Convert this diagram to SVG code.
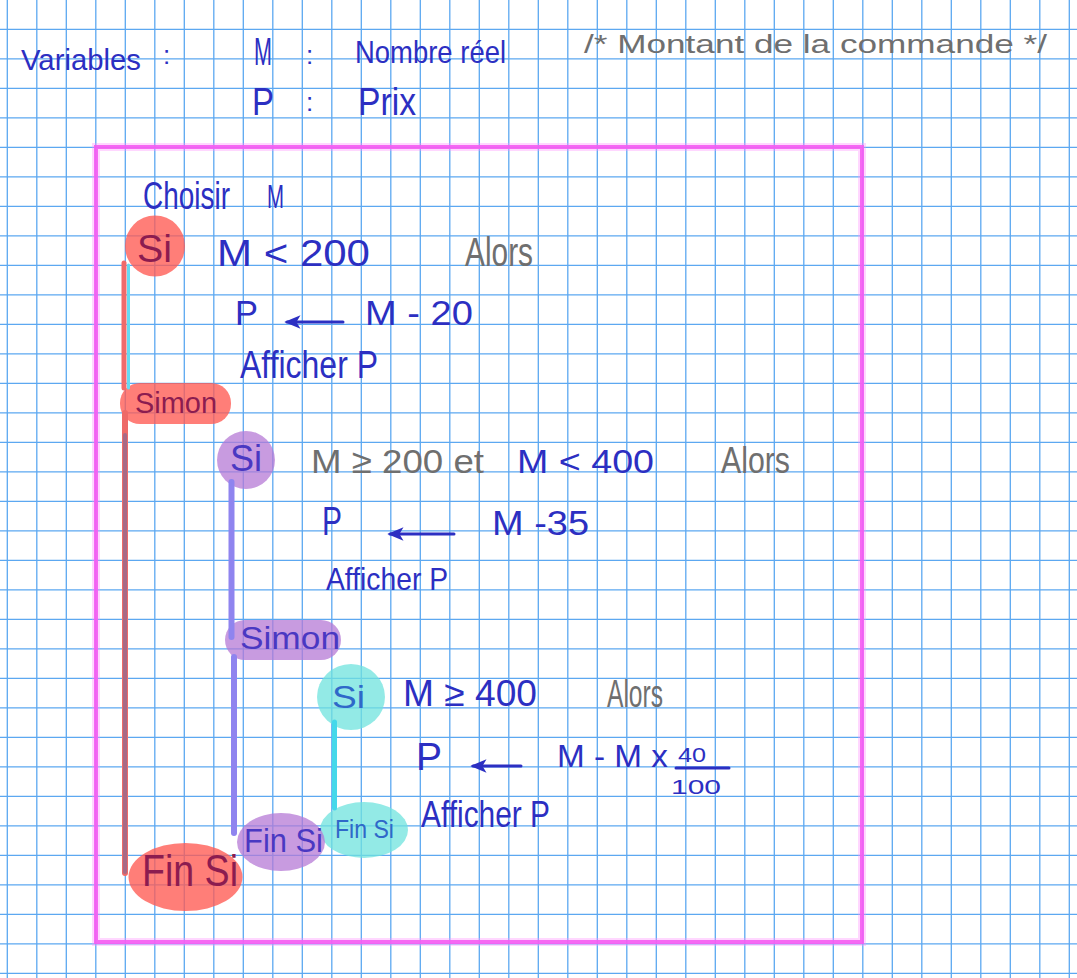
<svg xmlns="http://www.w3.org/2000/svg" width="1077" height="978" viewBox="0 0 1077 978">
<style>
text{font-family:"Liberation Sans","DejaVu Sans",Arial,sans-serif;}
.ink{fill:#2c2fc2;}
.grey{fill:#6f6f6f;}
.lred{fill:#8c1c50;}
.lpur{fill:#4a38c2;}
.lcya{fill:#2f68c9;}
.grid{fill:none;stroke:#4a9ef0;stroke-width:1.3;opacity:0.9;}
.red{fill:#ff5a52;fill-opacity:0.78;}
.pur{fill:#b57ad6;fill-opacity:0.75;}
.cya{fill:#6fe3de;fill-opacity:0.75;}
.arrow{stroke:#2c2fc2;stroke-width:3;fill:none;stroke-linecap:round;}
.bar{fill:none;stroke-linecap:round;}
</style>
<defs>
<marker id="ah" viewBox="0 0 12 10" refX="10" refY="5" markerWidth="5.5" markerHeight="4.5" orient="auto" markerUnits="strokeWidth">
<path d="M12,5 L0,0 L3,5 L0,10 Z" fill="#2c2fc2"/>
</marker>
</defs>
<rect width="1077" height="978" fill="#ffffff"/>
<path class="grid" d="M7.3 0V978M36.8 0V978M66.3 0V978M95.8 0V978M125.3 0V978M154.8 0V978M184.3 0V978M213.8 0V978M243.3 0V978M272.8 0V978M302.3 0V978M331.8 0V978M361.3 0V978M390.8 0V978M420.3 0V978M449.8 0V978M479.3 0V978M508.8 0V978M538.3 0V978M567.8 0V978M597.3 0V978M626.8 0V978M656.3 0V978M685.8 0V978M715.3 0V978M744.8 0V978M774.3 0V978M803.8 0V978M833.3 0V978M862.8 0V978M892.3 0V978M921.8 0V978M951.3 0V978M980.8 0V978M1010.3 0V978M1039.8 0V978M1069.3 0V978M0 29.3H1077M0 58.8H1077M0 88.3H1077M0 117.8H1077M0 147.3H1077M0 176.8H1077M0 206.3H1077M0 235.8H1077M0 265.3H1077M0 294.8H1077M0 324.3H1077M0 353.8H1077M0 383.3H1077M0 412.8H1077M0 442.3H1077M0 471.8H1077M0 501.3H1077M0 530.8H1077M0 560.3H1077M0 589.8H1077M0 619.3H1077M0 648.8H1077M0 678.3H1077M0 707.8H1077M0 737.3H1077M0 766.8H1077M0 796.3H1077M0 825.8H1077M0 855.3H1077M0 884.8H1077M0 914.3H1077M0 943.8H1077M0 973.3H1077"/>

<g id="header">
<text class="ink" x="21" y="70" font-size="30" textLength="120" lengthAdjust="spacingAndGlyphs">Variables</text>
<text class="ink" x="163" y="64" font-size="26">:</text>
<text class="ink" x="254" y="65" font-size="39" textLength="18" lengthAdjust="spacingAndGlyphs">M</text>
<text class="ink" x="306" y="64" font-size="26">:</text>
<text class="ink" x="355" y="63" font-size="32" textLength="151" lengthAdjust="spacingAndGlyphs">Nombre réel</text>
<text class="ink" x="252" y="115" font-size="38" textLength="22" lengthAdjust="spacingAndGlyphs">P</text>
<text class="ink" x="306" y="111" font-size="26">:</text>
<text class="ink" x="358" y="115" font-size="38" textLength="58" lengthAdjust="spacingAndGlyphs">Prix</text>
<text class="grey" x="584" y="53" font-size="26" textLength="463" lengthAdjust="spacingAndGlyphs">/* Montant de la commande */</text>
</g>

<g id="frame">
<rect x="96" y="147" width="766" height="795" fill="none" stroke="#ff8cff" stroke-width="8" opacity="0.35"/>
<rect x="96" y="147" width="766" height="795" fill="none" stroke="#f55cf2" stroke-width="4" opacity="0.9"/>
</g>

<g id="choisir">
<text class="ink" x="143" y="209" font-size="39" textLength="87" lengthAdjust="spacingAndGlyphs">Choisir</text>
<text class="ink" x="267" y="208" font-size="34" textLength="17" lengthAdjust="spacingAndGlyphs">M</text>
</g>

<g id="si1">
<ellipse class="red" cx="155" cy="246" rx="30" ry="30.5"/>
<text class="lred" x="137" y="262" font-size="38" textLength="35" lengthAdjust="spacingAndGlyphs">Si</text>
</g>
<g id="cond1">
<text class="ink" x="217" y="266" font-size="36" textLength="153" lengthAdjust="spacingAndGlyphs">M &lt; 200</text>
<text class="grey" x="465" y="266" font-size="40" textLength="68" lengthAdjust="spacingAndGlyphs">Alors</text>
</g>
<g id="assign1">
<text class="ink" x="235" y="325" font-size="35" textLength="23" lengthAdjust="spacingAndGlyphs">P</text>
<line class="arrow" x1="343" y1="322" x2="287" y2="322" marker-end="url(#ah)"/>
<text class="ink" x="365" y="325" font-size="35" textLength="108" lengthAdjust="spacingAndGlyphs">M - 20</text>
</g>
<g id="afficher1">
<text class="ink" x="240" y="378" font-size="38" textLength="138" lengthAdjust="spacingAndGlyphs">Afficher P</text>
</g>
<g id="sinon1">
<rect class="red" x="120" y="383" width="111" height="41" rx="20"/>
<text class="lred" x="135" y="413" font-size="30" textLength="82" lengthAdjust="spacingAndGlyphs">Simon</text>
</g>

<g id="si2">
<circle class="pur" cx="246" cy="460" r="29"/>
<text class="lpur" x="230" y="471" font-size="36" textLength="32" lengthAdjust="spacingAndGlyphs">Si</text>
</g>
<g id="cond2">
<text class="grey" x="311" y="473" font-size="34" textLength="173" lengthAdjust="spacingAndGlyphs">M ≥ 200 et</text>
<text class="ink" x="517" y="473" font-size="34" textLength="137" lengthAdjust="spacingAndGlyphs">M &lt; 400</text>
<text class="grey" x="721" y="473" font-size="37" textLength="69" lengthAdjust="spacingAndGlyphs">Alors</text>
</g>
<g id="assign2">
<text class="ink" x="322" y="535" font-size="40" textLength="20" lengthAdjust="spacingAndGlyphs">P</text>
<line class="arrow" x1="454" y1="534" x2="390" y2="534" marker-end="url(#ah)"/>
<text class="ink" x="492" y="535" font-size="35" textLength="97" lengthAdjust="spacingAndGlyphs">M -35</text>
</g>
<g id="afficher2">
<text class="ink" x="326" y="590" font-size="32" textLength="122" lengthAdjust="spacingAndGlyphs">Afficher P</text>
</g>
<g id="sinon2">
<rect class="pur" x="225" y="620" width="116" height="40" rx="20"/>
<text class="lpur" x="240" y="649" font-size="32" textLength="100" lengthAdjust="spacingAndGlyphs">Simon</text>
</g>

<g id="si3">
<ellipse class="cya" cx="351" cy="697" rx="34" ry="33"/>
<text class="lcya" x="332" y="708" font-size="32" textLength="33" lengthAdjust="spacingAndGlyphs">Si</text>
</g>
<g id="cond3">
<text class="ink" x="403" y="706" font-size="36" textLength="134" lengthAdjust="spacingAndGlyphs">M ≥ 400</text>
<text class="grey" x="607" y="707" font-size="38" textLength="56" lengthAdjust="spacingAndGlyphs">Alors</text>
</g>
<g id="assign3">
<text class="ink" x="416" y="770" font-size="38" textLength="26" lengthAdjust="spacingAndGlyphs">P</text>
<line class="arrow" x1="521" y1="766" x2="473" y2="766" marker-end="url(#ah)"/>
<text class="ink" x="557" y="767" font-size="31" textLength="111" lengthAdjust="spacingAndGlyphs">M - M x</text>
<text class="ink" x="678" y="762" font-size="20" textLength="28" lengthAdjust="spacingAndGlyphs">40</text>
<line x1="676" y1="768" x2="729" y2="768" stroke="#2c2fc2" stroke-width="3" stroke-linecap="round"/>
<text class="ink" x="671" y="794" font-size="21" textLength="50" lengthAdjust="spacingAndGlyphs">100</text>
</g>
<g id="afficher3">
<text class="ink" x="421" y="827" font-size="36" textLength="129" lengthAdjust="spacingAndGlyphs">Afficher P</text>
</g>
<g id="finsi3">
<ellipse class="cya" cx="364" cy="830" rx="44" ry="28"/>
<text class="lcya" x="335" y="838" font-size="26" textLength="59" lengthAdjust="spacingAndGlyphs">Fin Si</text>
</g>
<g id="finsi2">
<ellipse class="pur" cx="281" cy="842" rx="44" ry="29"/>
<text class="lpur" x="244" y="852" font-size="34" textLength="79" lengthAdjust="spacingAndGlyphs">Fin Si</text>
</g>
<g id="finsi1">
<ellipse class="red" cx="185.5" cy="877" rx="57" ry="34"/>
<text class="lred" x="142" y="886" font-size="44" textLength="96" lengthAdjust="spacingAndGlyphs">Fin Si</text>
</g>

<g id="connectors">
<line class="bar" x1="124" y1="263" x2="124" y2="388" stroke="#f06a6a" stroke-width="5"/>
<line class="bar" x1="128.5" y1="265" x2="128.5" y2="388" stroke="#66d9f0" stroke-width="3"/>
<line class="bar" x1="125" y1="413" x2="125" y2="873" stroke="#ee6a68" stroke-width="6"/>
<line class="bar" x1="125" y1="435" x2="125" y2="872" stroke="#6e6aa0" stroke-width="4" opacity="0.55"/>
<line class="bar" x1="231.5" y1="482" x2="231.5" y2="637" stroke="#8f84ef" stroke-width="6"/>
<line class="bar" x1="234" y1="657" x2="234" y2="833" stroke="#8f84ef" stroke-width="6"/>
<line class="bar" x1="334.5" y1="722" x2="334.5" y2="808" stroke="#45d8ea" stroke-width="5"/>
</g>
</svg>
